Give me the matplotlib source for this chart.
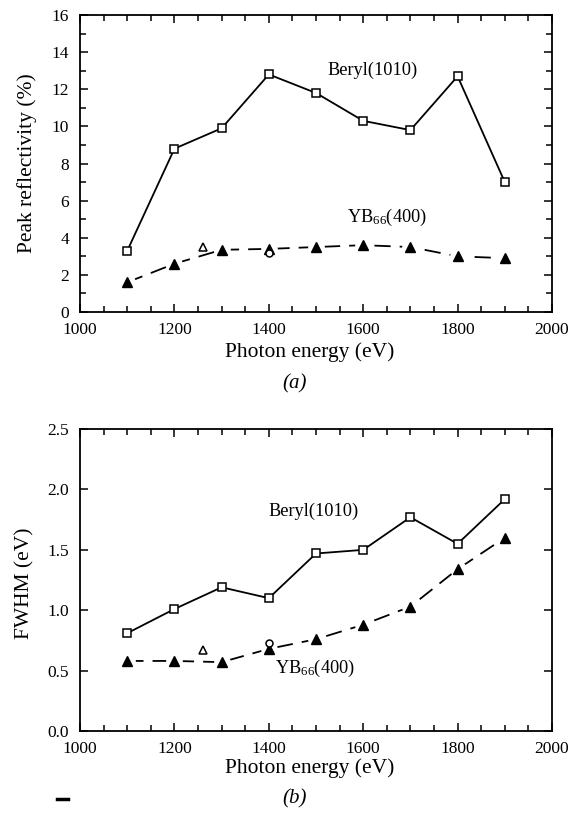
import matplotlib
matplotlib.use('Agg')
import matplotlib.pyplot as plt
from matplotlib.ticker import MultipleLocator
from matplotlib.lines import Line2D

plt.rcParams['font.family'] = ['Liberation Serif', 'DejaVu Serif']
plt.rcParams['mathtext.fontset'] = 'custom'
plt.rcParams['mathtext.rm'] = 'Liberation Serif'
plt.rcParams['mathtext.it'] = 'Liberation Serif:italic'

# photon energies (eV)
energy = [1100, 1200, 1300, 1400, 1500, 1600, 1700, 1800, 1900]

# (a) peak reflectivity (%)
beryl_refl = [3.3, 8.8, 9.9, 12.8, 11.8, 10.3, 9.8, 12.7, 7.0]
yb66_refl = [1.6, 2.6, 3.35, 3.4, 3.5, 3.6, 3.5, 3.0, 2.9]

# (b) FWHM (eV)
beryl_fwhm = [0.81, 1.01, 1.19, 1.10, 1.47, 1.50, 1.77, 1.55, 1.92]
yb66_fwhm = [0.58, 0.58, 0.57, 0.68, 0.76, 0.88, 1.03, 1.34, 1.60]

# extra single points (open triangle, open circle)
tri_x, tri_refl, tri_fwhm = [1260], [3.5], [0.67]
circ_x, circ_refl, circ_fwhm = [1400], [3.2], [0.73]

fig = plt.figure(figsize=(5.72, 8.18), dpi=100)
ax1 = fig.add_axes([0.14, 0.6186, 0.825, 0.363])
ax2 = fig.add_axes([0.14, 0.1064, 0.825, 0.369])

fs_tick = 12.5
fs_lab = 15.5


def draw(ax, beryl, yb66, tri, circ):
    ax.plot(energy, beryl, color='black', lw=1.3, marker='s', ms=6,
            mfc='white', mec='black', mew=1.1, zorder=3)
    ax.plot(energy, yb66, color='black', lw=1.3, ls=(0, (9, 5)), zorder=2)
    # white halo so the dashed line stops short of each marker
    ax.plot(energy, yb66, ls='none', marker='o', ms=11, mfc='white',
            mec='white', zorder=2.5)
    ax.plot(energy, yb66, ls='none', marker='^', ms=6.5, mfc='black',
            mec='black', zorder=3)
    ax.plot(tri_x, tri, ls='none', marker='^', ms=6, mfc='white',
            mec='black', mew=1.1, zorder=4)
    ax.plot(circ_x, circ, ls='none', marker='o', ms=5, mfc='white',
            mec='black', mew=1.1, zorder=4)
    ax.set_xlim(1000, 2000)
    ax.xaxis.set_major_locator(MultipleLocator(200))
    ax.xaxis.set_minor_locator(MultipleLocator(50))
    ax.tick_params(which='both', direction='in', top=True, right=True,
                   labelsize=fs_tick, width=1.1)
    ax.tick_params(axis='x', pad=7)
    ax.tick_params(axis='y', pad=8)
    ax.tick_params(which='major', length=6)
    ax.tick_params(which='minor', length=4)
    for s in ax.spines.values():
        s.set_linewidth(1.3)
    ax.set_xlabel('Photon energy (eV)', fontsize=fs_lab)
    ax.xaxis.label.set_va('center')


draw(ax1, beryl_refl, yb66_refl, tri_refl, circ_refl)
ax1.set_ylim(0, 16)
ax1.yaxis.set_major_locator(MultipleLocator(2))
ax1.yaxis.set_minor_locator(MultipleLocator(1))
ax1.set_ylabel('Peak reflectivity (%)', fontsize=fs_lab)
ax1.yaxis.label.set_va('center')
ax1.yaxis.set_label_coords(-0.112, 0.5)
ax1.xaxis.set_label_coords(0.487, -0.135)
ax1.text(1620, 13.0, 'Beryl(1010)', fontsize=13.2, ha='center', va='center')
ax1.text(1650, 5.1, r'YB$_{66}$(400)', fontsize=13.2, ha='center', va='center')

draw(ax2, beryl_fwhm, yb66_fwhm, tri_fwhm, circ_fwhm)
ax2.set_ylim(0, 2.5)
ax2.yaxis.set_major_locator(MultipleLocator(0.5))
ax2.yaxis.set_minor_locator(MultipleLocator(0.5))
ax2.yaxis.set_major_formatter(plt.FormatStrFormatter('%.1f'))
ax2.set_ylabel('FWHM (eV)', fontsize=fs_lab)
ax2.yaxis.label.set_va('center')
ax2.yaxis.set_label_coords(-0.118, 0.49)
ax2.xaxis.set_label_coords(0.487, -0.1225)
ax2.text(1495, 1.82, 'Beryl(1010)', fontsize=13.2, ha='center', va='center')
ax2.text(1498, 0.52, r'YB$_{66}$(400)', fontsize=13.2, ha='center', va='center')

fig.text(295 / 572, 1 - 384 / 818, '(a)', fontsize=15, style='italic',
         ha='center', va='center')
fig.text(295 / 572, 1 - 799 / 818, '(b)', fontsize=15, style='italic',
         ha='center', va='center')
fig.add_artist(Line2D([57 / 572, 68 / 572], [1 - 799 / 818, 1 - 799 / 818],
                      color='black', lw=2.5, transform=fig.transFigure))

fig.savefig('out.png', dpi=100)
